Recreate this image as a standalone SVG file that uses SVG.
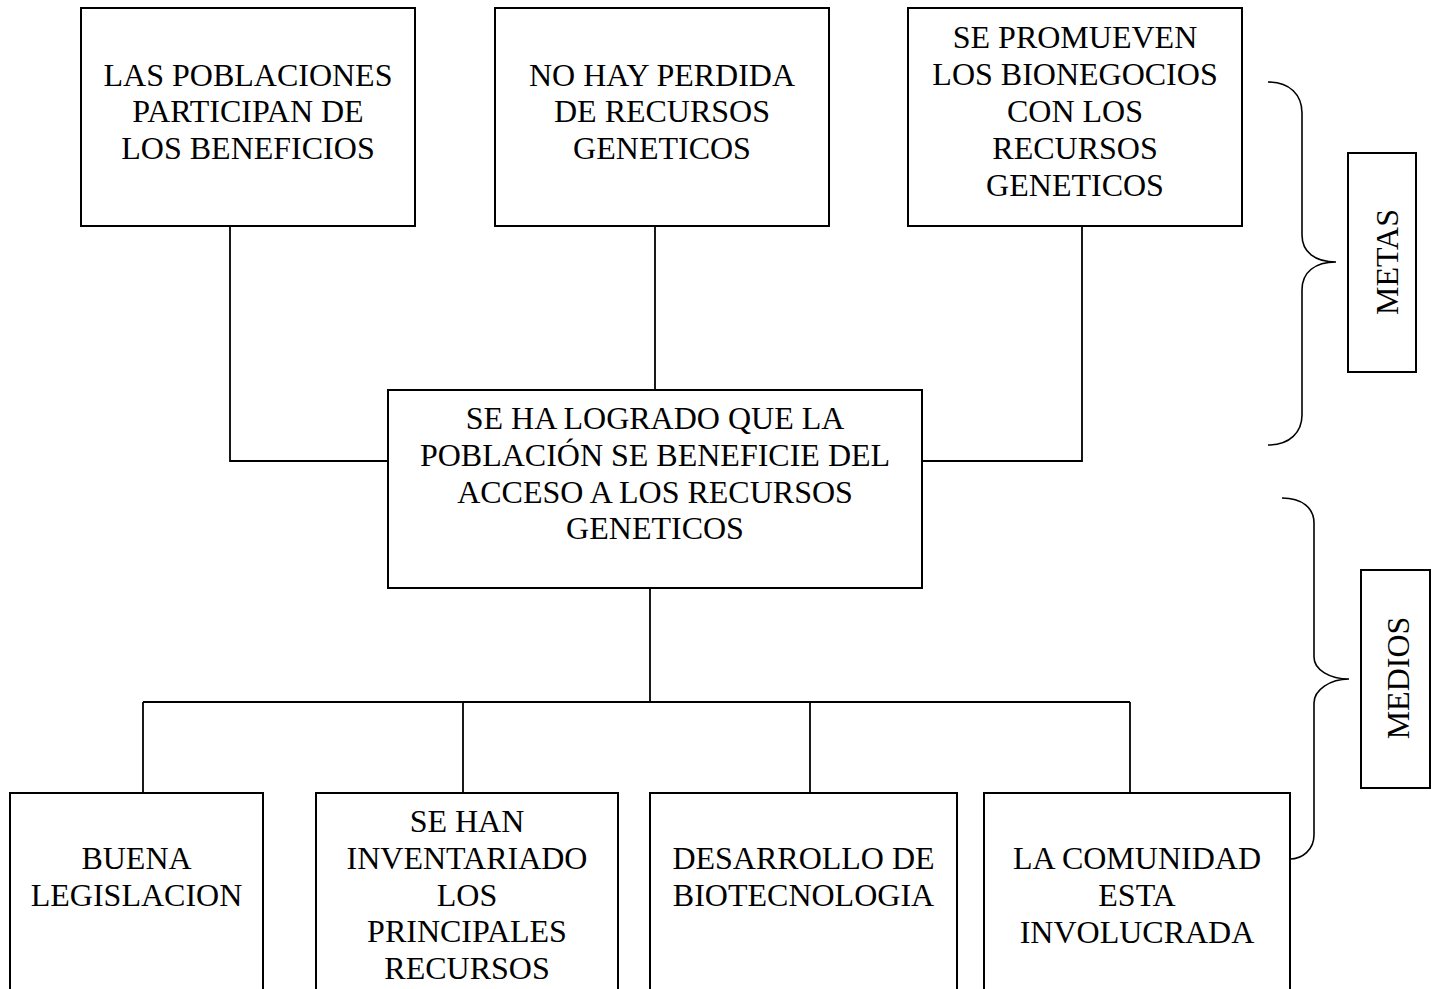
<svg xmlns="http://www.w3.org/2000/svg" width="1438" height="989" viewBox="0 0 1438 989">
<style>
.box{fill:#fff;stroke:#000;stroke-width:2}
.ln{fill:none;stroke:#000;stroke-width:1.8}
.br{fill:none;stroke:#000;stroke-width:1.6}
text{font-family:"Liberation Serif","Times New Roman",serif;font-size:32px;fill:#000;text-anchor:middle}
</style>
<rect width="1438" height="989" fill="#fff"/>
<g id="connectors">
<polyline class="ln" points="230,226 230,461 388,461"/>
<line class="ln" x1="655" y1="226" x2="655" y2="390"/>
<polyline class="ln" points="1082,226 1082,461 922,461"/>
<line class="ln" x1="650" y1="588" x2="650" y2="702"/>
<line class="ln" x1="143" y1="702" x2="1130" y2="702"/>
<line class="ln" x1="143" y1="702" x2="143" y2="793"/>
<line class="ln" x1="463" y1="702" x2="463" y2="793"/>
<line class="ln" x1="810" y1="702" x2="810" y2="793"/>
<line class="ln" x1="1130" y1="702" x2="1130" y2="793"/>
</g>
<g id="n1"><rect class="box" x="81" y="8" width="334" height="218"/>
<text x="248" y="85.5">LAS POBLACIONES</text><text x="248" y="122">PARTICIPAN DE</text><text x="248" y="158.5">LOS BENEFICIOS</text></g>
<g id="n2"><rect class="box" x="495" y="8" width="334" height="218"/>
<text x="662" y="85.5">NO HAY PERDIDA</text><text x="662" y="122">DE RECURSOS</text><text x="662" y="158.5">GENETICOS</text></g>
<g id="n3"><rect class="box" x="908" y="8" width="334" height="218"/>
<text x="1075" y="48">SE PROMUEVEN</text><text x="1075" y="85">LOS BIONEGOCIOS</text><text x="1075" y="122">CON LOS</text><text x="1075" y="159">RECURSOS</text><text x="1075" y="196">GENETICOS</text></g>
<g id="center"><rect class="box" x="388" y="390" width="534" height="198"/>
<text x="655" y="428.5">SE HA LOGRADO QUE LA</text><text x="655" y="466">POBLACIÓN SE BENEFICIE DEL</text><text x="655" y="502.5">ACCESO A LOS RECURSOS</text><text x="655" y="539">GENETICOS</text></g>
<g id="m1"><rect class="box" x="10" y="793" width="253" height="210"/>
<text x="136.5" y="868.5">BUENA</text><text x="136.5" y="905.5">LEGISLACION</text></g>
<g id="m2"><rect class="box" x="316" y="793" width="302" height="210"/>
<text x="467" y="832">SE HAN</text><text x="467" y="868.5">INVENTARIADO</text><text x="467" y="905.5">LOS</text><text x="467" y="942">PRINCIPALES</text><text x="467" y="978.5">RECURSOS</text></g>
<g id="m3"><rect class="box" x="650" y="793" width="307" height="210"/>
<text x="803.5" y="868.5">DESARROLLO DE</text><text x="803.5" y="905.5">BIOTECNOLOGIA</text></g>
<g id="m4"><rect class="box" x="984" y="793" width="306" height="210"/>
<text x="1137" y="868.5">LA COMUNIDAD</text><text x="1137" y="905.5">ESTA</text><text x="1137" y="942.5">INVOLUCRADA</text></g>
<g id="brace-metas"><path class="br" d="M1268,82 C1290,82 1302,95 1302,113 L1302,235 C1302,252 1315,262 1336,262 C1315,262 1302,272 1302,290 L1302,415 C1302,432 1290,445 1268,445"/></g>
<g id="brace-medios"><path class="br" d="M1282,498 C1302,498 1314,508 1314,523 L1314,657 C1314,670 1330,679 1349,679 C1330,679 1314,690 1314,703 L1314,835 C1314,850 1302,859 1290,859"/></g>
<g id="label-metas"><rect class="box" x="1348" y="153" width="68" height="219"/>
<text transform="translate(1398,262) rotate(-90)">METAS</text></g>
<g id="label-medios"><rect class="box" x="1361" y="570" width="69" height="218"/>
<text transform="translate(1409,678) rotate(-90)">MEDIOS</text></g>
</svg>
